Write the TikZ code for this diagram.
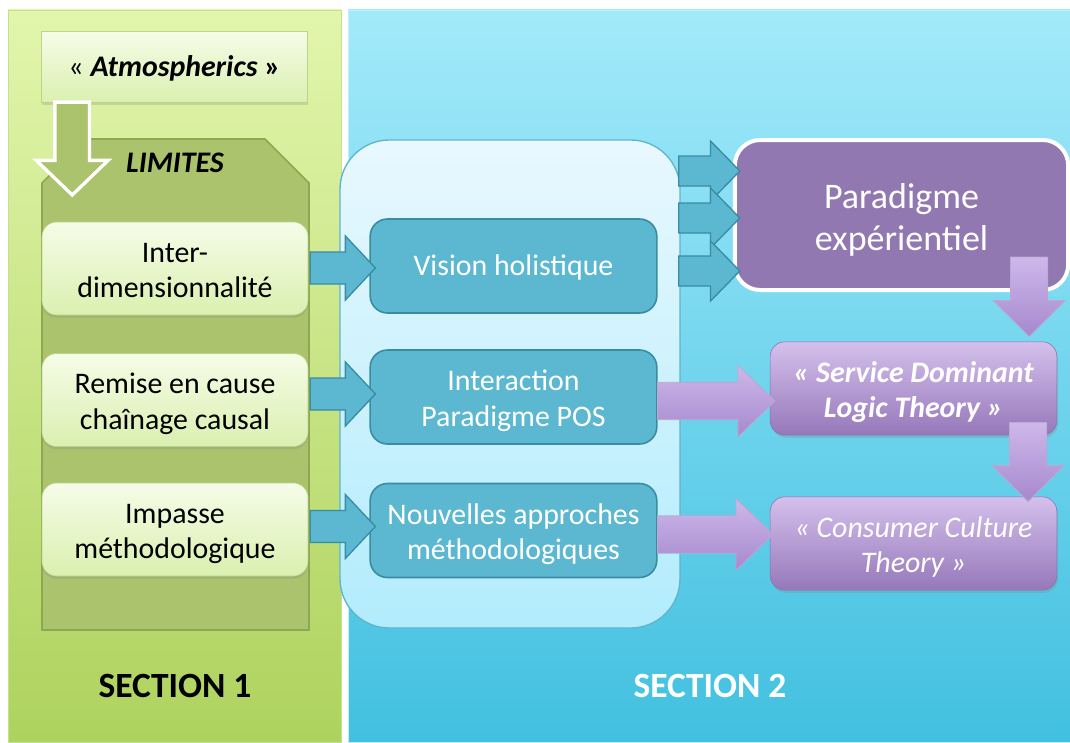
\documentclass[tikz,border=0pt]{standalone}
\usepackage{fontspec}
\setmainfont{Carlito}
\usetikzlibrary{calc, shadows}

\definecolor{vertclair}{RGB}{226,246,172}
\definecolor{vertfonce}{RGB}{174,210,94}
\definecolor{bordvert}{RGB}{196,226,140}
\definecolor{boitebord}{RGB}{186,212,136}
\definecolor{boiteclair}{RGB}{246,252,232}
\definecolor{boitefonce}{RGB}{218,240,176}
\definecolor{olive}{RGB}{170,195,108}
\definecolor{olivebord}{RGB}{140,168,80}
\definecolor{cyanclair}{RGB}{162,234,250}
\definecolor{cyanfonce}{RGB}{66,192,224}
\definecolor{cadreclair}{RGB}{232,248,254}
\definecolor{cadrefonce}{RGB}{178,236,252}
\definecolor{cadrebord}{RGB}{96,180,204}
\definecolor{bleu}{RGB}{91,184,208}
\definecolor{bleubord}{RGB}{56,140,164}
\definecolor{violet}{RGB}{145,120,176}
\definecolor{mauveclair}{RGB}{212,192,236}
\definecolor{mauvefonce}{RGB}{150,120,186}
\definecolor{mauvebord}{RGB}{140,112,176}
\definecolor{flecheclair}{RGB}{206,184,234}
\definecolor{flechefonce}{RGB}{166,136,206}

% fleches pleines : [style]{depart}{pointe}{demi-tige}{demi-tete}{longueur tete}
\newcommand{\flecheH}[6][]{%
  \draw[#1] let \p1=(#2), \p2=(#3) in
    (\x1,\y1+#4) -- (\x2-#6,\y1+#4) -- (\x2-#6,\y1+#5) -- (\x2,\y1)
    -- (\x2-#6,\y1-#5) -- (\x2-#6,\y1-#4) -- (\x1,\y1-#4) -- cycle;}
\newcommand{\flecheV}[6][]{%
  \draw[#1] let \p1=(#2), \p2=(#3) in
    (\x1+#4,\y1) -- (\x1+#4,\y2+#6) -- (\x1+#5,\y2+#6) -- (\x1,\y2)
    -- (\x1-#5,\y2+#6) -- (\x1-#4,\y2+#6) -- (\x1-#4,\y1) -- cycle;}

\begin{document}
\begin{tikzpicture}[x=0.75pt, y=-0.75pt,
  every node/.style={align=center, font=\fontsize{22.4}{26.5}\selectfont,
    execute at begin node={\rule{0pt}{1em}}, execute at end node={\rule[-.36em]{0pt}{.36em}}},
  deux/.style={execute at begin node={\rule{0pt}{\dimexpr\baselineskip+1.14em\relax}}},
  boitevert/.style={draw=boitebord, top color=boiteclair, bottom color=boitefonce,
    rounded corners=11pt, minimum width=199.5pt, minimum height=69.75pt,
    drop shadow={opacity=.25, shadow xshift=0pt, shadow yshift=-2pt}},
  boitebleue/.style={draw=bleubord, line width=1.2pt, fill=bleu, text=white,
    rounded corners=13pt, minimum width=215pt, minimum height=70.5pt},
  boitemauve/.style={draw=mauvebord, top color=mauveclair, bottom color=mauvefonce, text=white,
    rounded corners=11pt, minimum width=215pt, minimum height=70pt,
    drop shadow={opacity=.25, shadow xshift=1pt, shadow yshift=-2pt}},
  fleche bleue/.style={fill=bleu, draw=bleubord, line width=1pt},
  fleche mauve/.style={top color=flecheclair, bottom color=flechefonce, draw=mauvebord!60, line width=.6pt},
  titre/.style={font=\fontsize{26.6}{30}\selectfont\bfseries}]
\useasboundingbox (0,0) rectangle (1070,742);
\fill[white] (0,0) rectangle (1070,742);
% les deux sections
\draw[bordvert, top color=vertclair, bottom color=vertfonce] (8,10) rectangle (341,742);
\draw[cyanclair!70!white, top color=cyanclair, bottom color=cyanfonce] (348,10) rectangle (1070,742);

% section 1
\node[boitevert, rounded corners=0pt, minimum height=53pt] (atmos) at (174.5,66.5) {« \textbf{\textit{Atmospherics} »}};
\draw[olivebord, line width=1.2pt, fill=olive] (42,183) -- (86,139) -- (265,139) -- (309,183) -- (309,630) -- (42,630) -- cycle;
\node[font=\fontsize{22.4}{26}\selectfont\bfseries\itshape] (limites) at (175,163) {LIMITES};
\coordinate (limhaut) at (74,195);
\flecheV[draw=white, line width=2.5pt, fill=olive]{$(atmos.south west)+(31,0)$}{limhaut}{13pt}{27pt}{26pt}
\node[boitevert, deux] (inter) at (175,268.5) {Inter-\\dimensionnalité};
\node[boitevert, deux] (remise) at (175,400) {Remise en cause\\chaînage causal};
\node[boitevert, deux] (impasse) at (175,529.5) {Impasse\\méthodologique};
\node[titre] (sec1) at (175,686) {SECTION 1};

% section 2
\node[draw=cadrebord, line width=1pt, top color=cadreclair, bottom color=cadrefonce,
  rounded corners=37pt, minimum width=255pt, minimum height=366pt] (cadre) at (510,384) {};
\node[boitebleue] (vision) at (513.5,266) {Vision holistique};
\node[boitebleue, deux] (interaction) at (513.5,397) {Interaction\\Paradigme POS};
\node[boitebleue, deux] (nouvelles) at (513.5,530.5) {Nouvelles approches\\méthodologiques};
\node[draw=white, line width=3pt, fill=violet, text=white, rounded corners=19pt,
  minimum width=250pt, minimum height=112.5pt, font=\fontsize{27}{31.5}\selectfont, deux] (para) at (901.5,215) {Paradigme\\expérientiel};
\node[boitemauve, deux, font=\fontsize{22.4}{26.5}\selectfont\bfseries\itshape] (sdl) at (913.5,388.5) {« Service Dominant\\Logic Theory »};
\node[boitemauve, deux, font=\fontsize{22.4}{26.5}\selectfont\itshape] (cct) at (913.5,543.5) {« Consumer Culture\\Theory »};
\node[titre, text=white] (sec2) at (710,686) {SECTION 2};

% fleches
\flecheH[fleche bleue]{$(inter.east |- vision.west)+(2,2)$}{$(vision.west)+(6,0)$}{12pt}{24pt}{22.5pt}
\flecheH[fleche bleue]{$(remise.east |- interaction.west)+(2,-3)$}{$(interaction.west)+(6,0)$}{12pt}{24pt}{22.5pt}
\flecheH[fleche bleue]{$(impasse.east |- nouvelles.west)+(2,-4)$}{$(nouvelles.west)+(6,0)$}{12pt}{24pt}{22.5pt}
\foreach \dy in {-44,3,56}
  \flecheH[fleche bleue]{$(cadre.east |- para.west)+(-2,\dy)$}{$(para.west)+(7,0)$}{11.25pt}{22.5pt}{22pt};
\flecheH[fleche mauve]{$(interaction.east)+(0,4)$}{$(sdl.west)+(5,0)$}{14pt}{27pt}{27.75pt}
\flecheH[fleche mauve]{$(nouvelles.east)+(0,4)$}{$(cct.west)+(3,0)$}{14pt}{27pt}{27.75pt}
\flecheV[fleche mauve]{$(para.south east)+(-41,-35)$}{$(sdl.north east)+(-30,-5)$}{14pt}{27pt}{27pt}
\flecheV[fleche mauve]{$(sdl.south east)+(-29,-13)$}{$(cct.north east)+(-30,5)$}{14pt}{27pt}{27pt}
\end{tikzpicture}
\end{document}
